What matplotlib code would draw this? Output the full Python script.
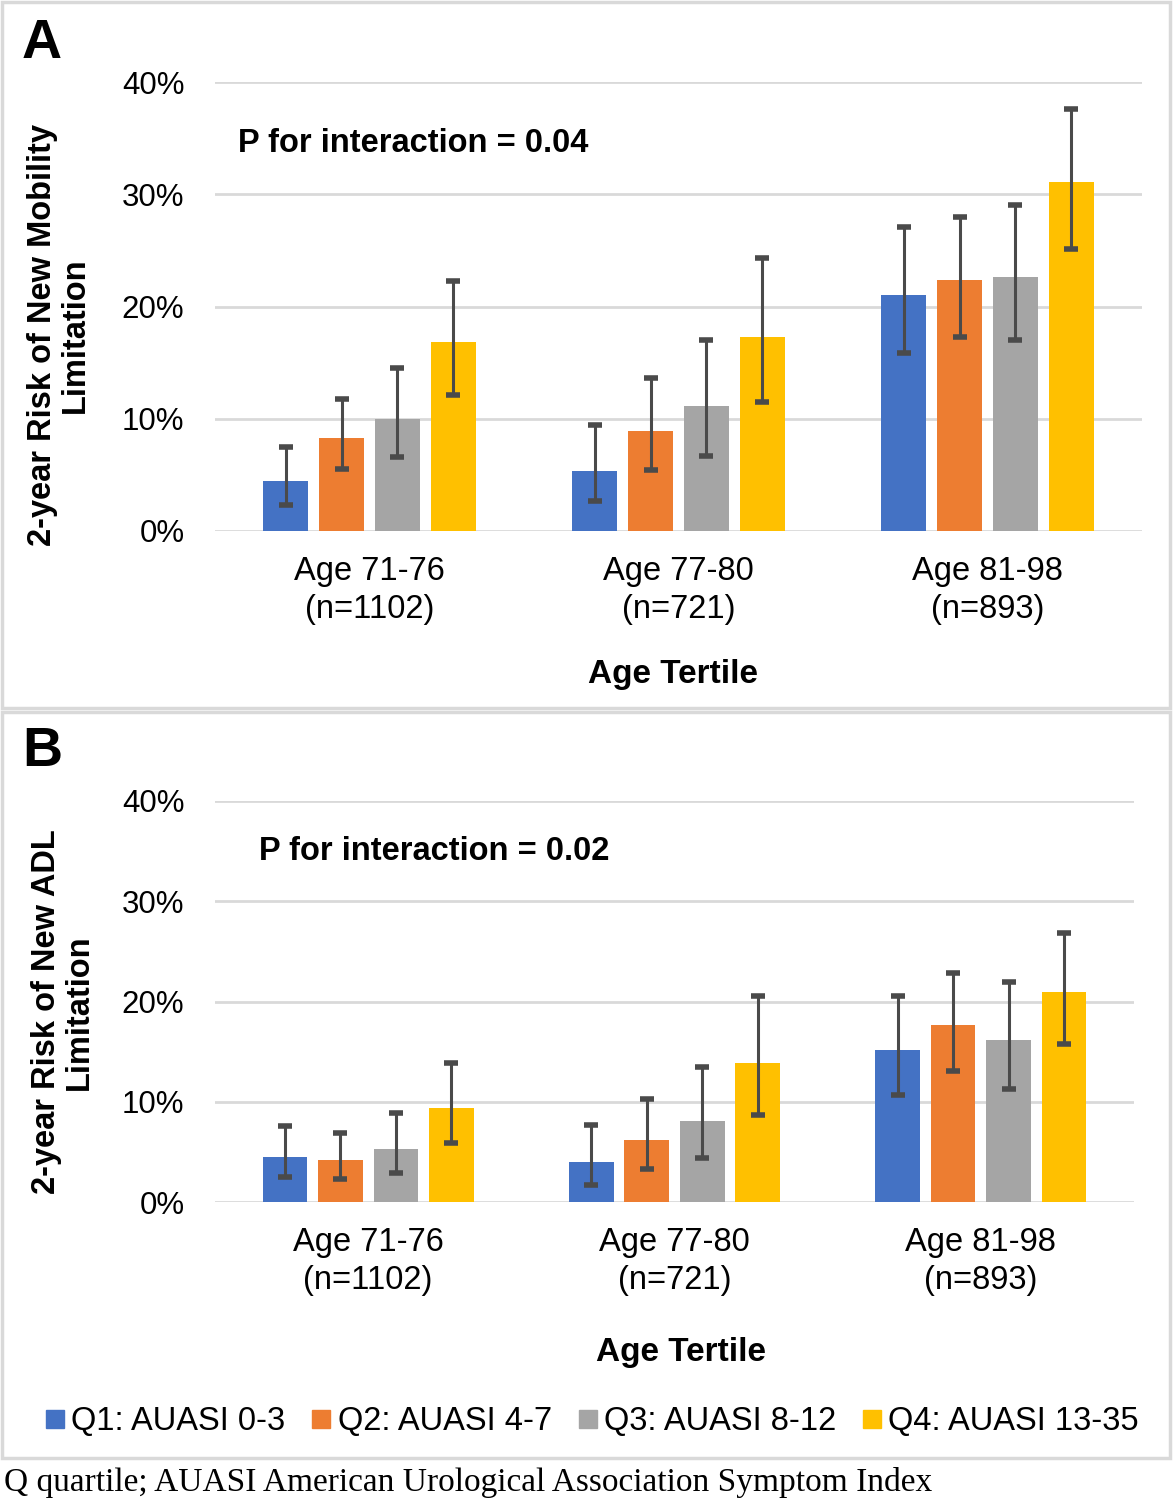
import matplotlib.pyplot as plt
from matplotlib.patches import Rectangle
from matplotlib.lines import Line2D

plt.rcParams['font.family'] = ['Liberation Sans', 'DejaVu Sans']

# data (percent)
groups = ['Age 71-76\n(n=1102)', 'Age 77-80\n(n=721)', 'Age 81-98\n(n=893)']
series = ['Q1: AUASI 0-3', 'Q2: AUASI 4-7', 'Q3: AUASI 8-12', 'Q4: AUASI 13-35']
colors = ['#4472C4', '#ED7D31', '#A5A5A5', '#FFC000']

# panel A: mobility limitation
mob_q1 = [4.45, 5.35, 21.05]
mob_q2 = [8.3, 8.9, 22.35]
mob_q3 = [10.0, 11.1, 22.6]
mob_q4 = [16.8, 17.3, 31.1]
mob_lo = [[2.35, 2.7, 15.85], [5.55, 5.45, 17.3], [6.6, 6.7, 17.0], [12.1, 11.5, 25.1]]
mob_hi = [[7.45, 9.4, 27.1], [11.8, 13.6, 28.0], [14.5, 17.05, 29.0], [22.3, 24.35, 37.6]]

# panel B: ADL limitation
adl_q1 = [4.48, 3.98, 15.14]
adl_q2 = [4.18, 6.17, 17.63]
adl_q3 = [5.28, 8.07, 16.17]
adl_q4 = [9.36, 13.84, 20.92]
adl_lo = [[2.45, 1.72, 10.69], [2.32, 3.32, 13.11], [2.85, 4.41, 11.28], [5.88, 8.66, 15.77]]
adl_hi = [[7.57, 7.67, 20.58], [6.9, 10.29, 22.84], [8.83, 13.45, 21.94], [13.87, 20.5, 26.82]]

W, H = 1174, 1500
fig = plt.figure(figsize=(W / 100, H / 100), dpi=100)


def fx(x):
    return x / W


def fy(y):
    return 1 - y / H


# panel frames
for y0, y1 in [(2, 708), (712, 1458)]:
    fig.patches.append(Rectangle((fx(2), fy(y1)), fx(1170) - fx(2), fy(y0) - fy(y1),
                                 transform=fig.transFigure, fill=False,
                                 edgecolor='#d9d9d9', linewidth=2.5))


def panel(left, right, top, bottom, vals, lo, hi, letter, ptext, ptx, pty,
          ylab, ylx, yly, xlab_xy, letter_xy):
    ax = fig.add_axes([fx(left), fy(bottom), fx(right) - fx(left), fy(top) - fy(bottom)])
    step = 0.181
    width = 0.146
    for i, v in enumerate(vals):
        xs = [g + (i - 1.5) * step for g in range(3)]
        err = [[v[k] - lo[i][k] for k in range(3)], [hi[i][k] - v[k] for k in range(3)]]
        ax.bar(xs, v, width, color=colors[i], zorder=3)
        ax.errorbar(xs, v, yerr=err, fmt='none', ecolor='#4a4a4a', elinewidth=2.2,
                    capsize=5, capthick=4, zorder=4)
    ax.set_xlim(-0.5, 2.5)
    ax.set_ylim(0, 40)
    ax.set_yticks([0, 10, 20, 30, 40])
    ax.set_yticklabels(['0%', '10%', '20%', '30%', '40%'])
    ax.set_xticks([0, 1, 2])
    ax.set_xticklabels(groups, linespacing=1.3)
    ax.tick_params(axis='y', length=0, pad=22, labelsize=22.5)
    ax.tick_params(axis='x', length=0, pad=18, labelsize=23.5)
    ax.grid(axis='y', color='#d9d9d9', linewidth=2, zorder=0)
    ax.set_axisbelow(True)
    for s in ax.spines.values():
        s.set_visible(False)
    fig.text(fx(ptx), fy(pty), ptext, fontsize=23.5, fontweight='bold', va='center', ha='left')
    fig.text(fx(ylx), fy(yly), ylab, fontsize=23.5, fontweight='bold',
             rotation=90, ha='center', va='center', linespacing=1.05, multialignment='center')
    fig.text(fx(xlab_xy[0]), fy(xlab_xy[1]), 'Age Tertile', fontsize=24,
             fontweight='bold', ha='center', va='center')
    fig.text(fx(letter_xy[0]), fy(letter_xy[1]), letter, fontsize=40, fontweight='bold',
             ha='left', va='center')
    return ax


panel(215, 1142, 82, 531, [mob_q1, mob_q2, mob_q3, mob_q4], mob_lo, mob_hi, 'A',
      'P for interaction = 0.04', 238, 143, '2-year Risk of New Mobility\nLimitation', 59, 335,
      (673, 674), (22, 44))
panel(215, 1134, 801, 1202, [adl_q1, adl_q2, adl_q3, adl_q4], adl_lo, adl_hi, 'B',
      'P for interaction = 0.02', 259, 851, '2-year Risk of New ADL\nLimitation', 63, 1012,
      (681, 1352), (22, 752))

handles = [Line2D([], [], marker='s', linestyle='none', markersize=13, color=c) for c in colors]
fig.legend(handles, series, loc='center', bbox_to_anchor=(fx(592), fy(1422)), ncol=4,
           frameon=False, fontsize=23.5, handlelength=0.6, handletextpad=0.2,
           columnspacing=0.8)

fig.text(fx(4), fy(1482), 'Q quartile; AUASI American Urological Association Symptom Index',
         fontsize=24, family=['Liberation Serif', 'DejaVu Serif'], ha='left', va='center')

fig.savefig('out.png', dpi=100)
